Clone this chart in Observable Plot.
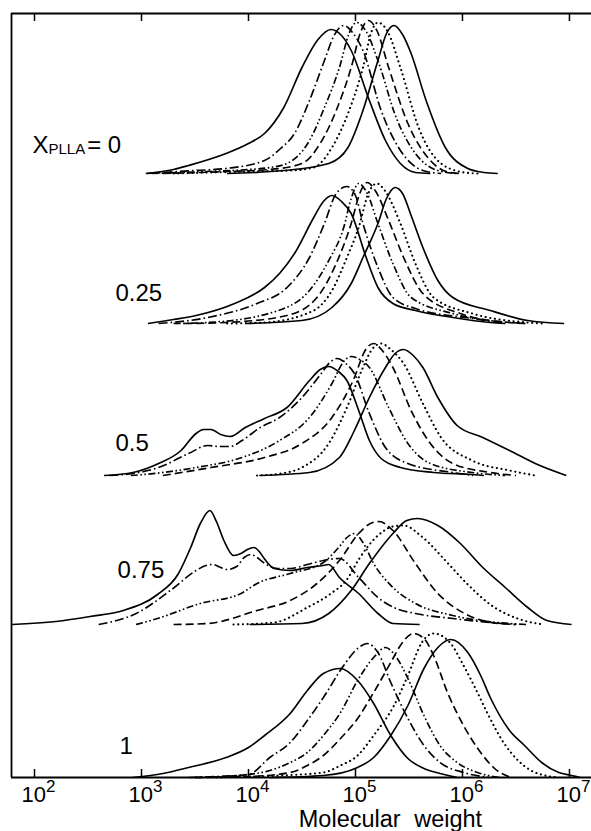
<!DOCTYPE html>
<html><head><meta charset="utf-8">
<script src="https://cdn.jsdelivr.net/npm/d3@7"></script>
<script src="https://cdn.jsdelivr.net/npm/@observablehq/plot@0.6"></script>
<style>body{margin:0;background:#fff} svg{display:block;font-family:"Liberation Sans",Arial,sans-serif}</style>
</head><body><div id="chart"></div>
<script>
// ---- data: [log10(M), intensity] per curve; 6 curves per panel ----
const panelLabels = ["0", "0.25", "0.5", "0.75", "1"];
const curveStyles = ["solid", "dashdot", "dashdotdot", "dashed", "dotted", "solid"];

const curvesX0 = [
  [[3.04,0],[3.3,4],[3.44,8],[3.79,20],[4.0,30],[4.15,40],[4.33,66],[4.50,106],[4.65,134],[4.77,144],[4.87,138],[4.96,123],[5.13,73],[5.28,33],[5.42,10],[5.56,1],[5.7,0]],
  [[3.05,0],[3.5,3],[3.79,5],[4.15,13],[4.30,25],[4.43,40],[4.57,73],[4.71,113],[4.80,138],[4.89,148],[4.98,140],[5.07,123],[5.24,63],[5.42,23],[5.63,3],[5.8,0]],
  [[3.1,0],[3.6,2],[4.0,4],[4.2,6],[4.36,10],[4.57,33],[4.71,66],[4.85,106],[4.94,140],[5.01,151],[5.10,142],[5.21,113],[5.38,56],[5.56,20],[5.77,3],[5.95,0]],
  [[3.2,0],[3.8,2],[4.2,4],[4.50,10],[4.67,30],[4.82,63],[4.96,106],[5.05,142],[5.12,153],[5.20,143],[5.31,106],[5.49,50],[5.70,13],[5.88,1],[6.0,0]],
  [[3.3,0],[4.0,2],[4.4,3],[4.61,6],[4.78,26],[4.93,60],[5.07,106],[5.15,142],[5.21,151],[5.30,142],[5.42,106],[5.59,46],[5.80,10],[6.02,1],[6.15,0]],
  [[3.8,0],[4.33,3],[4.75,10],[4.93,26],[5.07,63],[5.21,113],[5.29,140],[5.36,148],[5.44,139],[5.52,120],[5.66,73],[5.84,26],[6.05,5],[6.2,1],[6.33,0]]
];
const curvesX025 = [
  [[3.06,0],[3.3,4],[3.51,8],[3.87,20],[4.15,36],[4.29,50],[4.43,70],[4.61,106],[4.70,122],[4.78,128],[4.87,122],[4.96,110],[5.10,66],[5.21,36],[5.35,20],[5.56,13],[5.91,6],[6.26,1],[6.4,0]],
  [[3.16,0],[3.62,6],[4.08,20],[4.36,36],[4.57,66],[4.71,100],[4.82,130],[4.92,137],[5.00,128],[5.07,100],[5.21,56],[5.35,26],[5.56,15],[6.09,5],[6.4,0]],
  [[3.3,0],[3.62,1],[4.22,11],[4.57,33],[4.75,63],[4.89,96],[4.96,125],[5.03,140],[5.11,130],[5.21,100],[5.35,60],[5.52,26],[5.91,10],[6.44,1],[6.6,0]],
  [[3.4,0],[3.79,1],[4.36,8],[4.64,26],[4.82,60],[4.96,100],[5.04,130],[5.11,141],[5.19,132],[5.31,103],[5.45,66],[5.63,30],[5.98,10],[6.44,1],[6.6,0]],
  [[3.8,0],[4.15,1],[4.61,13],[4.78,33],[4.92,66],[5.03,96],[5.12,130],[5.20,140],[5.28,132],[5.42,100],[5.56,60],[5.73,26],[6.09,10],[6.61,1],[6.75,0]],
  [[3.97,0],[4.50,3],[4.78,16],[4.96,40],[5.07,66],[5.21,100],[5.29,125],[5.37,136],[5.44,130],[5.52,108],[5.63,76],[5.77,43],[5.91,26],[6.26,13],[6.61,3],[6.95,0]]
];
const curvesX05 = [
  [[2.65,0],[2.92,3],[3.16,12],[3.37,25],[3.51,42],[3.58,46],[3.65,46],[3.74,41],[3.83,39],[3.97,48],[4.15,57],[4.36,68],[4.57,95],[4.67,106],[4.75,109],[4.84,104],[4.92,95],[5.03,65],[5.13,35],[5.24,17],[5.42,8],[5.73,3],[6.09,1],[6.2,0]],
  [[2.7,0],[2.92,2],[3.16,8],[3.44,22],[3.62,30],[3.72,29],[3.83,29],[3.94,35],[4.11,48],[4.29,58],[4.50,78],[4.68,102],[4.76,113],[4.83,117],[4.91,112],[4.99,102],[5.13,62],[5.28,28],[5.49,12],[5.91,3],[6.1,0]],
  [[2.9,0],[3.02,1],[3.51,8],[3.94,18],[4.29,35],[4.57,58],[4.78,92],[4.89,114],[4.96,119],[5.04,116],[5.13,108],[5.31,68],[5.49,32],[5.70,12],[6.09,3],[6.4,0]],
  [[3.2,0],[3.65,8],[4.15,18],[4.50,32],[4.78,58],[4.99,98],[5.09,125],[5.17,132],[5.25,125],[5.35,108],[5.52,65],[5.70,32],[5.91,12],[6.26,3],[6.5,0]],
  [[4.08,0],[4.3,2],[4.50,8],[4.75,32],[4.92,68],[5.07,108],[5.16,127],[5.24,132],[5.33,126],[5.45,112],[5.63,72],[5.80,38],[6.09,15],[6.44,5],[6.68,0]],
  [[4.1,0],[4.57,3],[4.85,18],[4.99,45],[5.13,78],[5.28,108],[5.37,122],[5.45,126],[5.54,120],[5.63,108],[5.77,78],[5.95,50],[6.19,38],[6.44,25],[6.68,12],[6.97,0]]
];
const curvesX075 = [
  [[1.79,0],[2.2,3],[2.52,8],[2.83,14],[3.15,30],[3.34,50],[3.46,77],[3.55,101],[3.64,114],[3.70,103],[3.77,84],[3.86,69],[3.93,71],[3.99,75],[4.05,77],[4.10,73],[4.14,67],[4.24,56],[4.39,54],[4.55,57],[4.70,59],[4.75,60],[4.85,47],[5.03,31],[5.21,11],[5.35,1],[5.6,0]],
  [[2.60,0],[2.95,11],[3.27,34],[3.51,54],[3.60,59],[3.67,60],[3.74,57],[3.80,55],[3.89,58],[3.96,67],[4.02,70],[4.08,67],[4.14,62],[4.27,56],[4.39,56],[4.55,60],[4.70,64],[4.85,66],[5.03,47],[5.21,27],[5.38,16],[5.56,11],[5.91,6],[6.26,2],[6.5,0]],
  [[2.95,0],[3.15,6],[3.55,21],[3.93,31],[4.08,41],[4.39,51],[4.70,62],[4.85,78],[4.92,87],[4.99,91],[5.07,82],[5.17,61],[5.35,37],[5.56,21],[5.91,9],[6.44,1],[6.6,0]],
  [[3.3,0],[3.62,1],[4.08,14],[4.39,24],[4.64,41],[4.85,64],[5.03,91],[5.14,101],[5.22,103],[5.35,94],[5.56,61],[5.77,31],[6.02,11],[6.34,1],[6.5,0]],
  [[3.86,0],[4.24,2],[4.55,17],[4.77,31],[4.92,45],[5.03,65],[5.21,89],[5.35,98],[5.45,99],[5.63,87],[5.84,64],[6.05,40],[6.26,20],[6.54,5],[6.76,0]],
  [[4.01,0],[4.50,1],[4.75,11],[4.96,34],[5.13,61],[5.35,91],[5.48,104],[5.58,106],[5.77,99],[5.98,81],[6.19,57],[6.40,37],[6.61,17],[6.79,4],[7.02,0]]
];
const curvesX1 = [
  [[2.92,0],[3.2,4],[3.44,10],[3.79,20],[4.0,30],[4.15,42],[4.39,64],[4.55,87],[4.70,104],[4.86,109],[5.02,97],[5.17,74],[5.33,42],[5.49,19],[5.64,9],[5.79,4],[5.95,0]],
  [[3.44,0],[3.7,1],[4.0,3],[4.2,20],[4.39,35],[4.55,57],[4.70,80],[4.89,112],[5.02,129],[5.11,134],[5.21,125],[5.33,95],[5.49,59],[5.64,32],[5.79,15],[6.01,5],[6.25,0]],
  [[3.5,0],[3.9,2],[4.2,7],[4.39,15],[4.55,25],[4.70,42],[4.86,65],[5.02,97],[5.17,120],[5.28,130],[5.39,119],[5.49,99],[5.64,62],[5.79,32],[5.95,15],[6.14,5],[6.35,0]],
  [[3.5,0],[4.0,1],[4.39,5],[4.55,12],[4.70,22],[4.86,39],[5.02,59],[5.17,85],[5.33,115],[5.42,132],[5.54,144],[5.64,139],[5.73,122],[5.86,85],[6.01,52],[6.17,25],[6.3,9],[6.45,0]],
  [[3.7,0],[4.3,2],[4.70,5],[4.86,12],[5.02,22],[5.17,42],[5.36,72],[5.49,102],[5.62,135],[5.73,144],[5.89,134],[6.01,112],[6.14,85],[6.23,65],[6.39,34],[6.52,17],[6.64,7],[6.77,2],[6.9,0]],
  [[4.2,0],[4.7,2],[5.02,10],[5.17,20],[5.33,42],[5.49,72],[5.64,109],[5.77,130],[5.89,138],[6.05,125],[6.17,102],[6.26,80],[6.44,47],[6.58,32],[6.74,15],[6.90,5],[7.02,2],[7.1,0]]
];
const panelCurves = [curvesX0, curvesX025, curvesX05, curvesX075, curvesX1];
const decadeTicks = [1e2, 1e3, 1e4, 1e5, 1e6, 1e7];
const xTitle = "Molecular weight";

// ---- layout (not data) ----
const W = 591, H = 831, mT = 13, mB = 54, mL = 11, mR = 0;
const plotH = H - mT - mB;                 // y units = pixels
const panelShift = [604, 454, 302, 153, 0]; // vertical offset of each stacked trace group
const labelPos = [[1.981, 21], [2.757, 23], [2.757, 25], [2.776, 47], [2.794, 24]];
const xDomain = [10 ** 1.785, 10 ** 7.206];
const dash = {
  solid: null,
  dashdot: "9,3,1.6,3",
  dashdotdot: "7,2.5,1.6,2.5,1.6,2.5",
  dashed: "8,4",
  dotted: "0.1,4.6"
};

const rows = [];
panelCurves.forEach((curves, p) => curves.forEach((pts, c) => pts.forEach(([lm, v]) =>
  rows.push({panel: p, curve: c, style: curveStyles[c], x: 10 ** lm, y: panelShift[p] + v}))));

const styleNames = [...new Set(curveStyles)];
const lineMarks = styleNames.map(s => Plot.line(rows.filter(d => d.style === s), {
  x: "x", y: "y", z: d => d.panel + "-" + d.curve, curve: "monotone-x",
  stroke: "#000", strokeWidth: s === "dotted" ? 2.1 : 1.65,
  strokeDasharray: dash[s], strokeLinecap: s === "dotted" ? "round" : "butt"
}));

const labels = panelLabels.map((t, i) => ({
  text: i === 0 ? "XPLLA = " + t : t,
  x: 10 ** labelPos[i][0], y: panelShift[i] + labelPos[i][1]
}));

const chart = Plot.plot({
  width: W, height: H, marginTop: mT, marginBottom: mB, marginLeft: mL, marginRight: mR,
  x: {type: "log", domain: xDomain, axis: null},
  y: {domain: [0, plotH], axis: null},
  marks: [
    ...lineMarks,
    Plot.ruleX([xDomain[0]], {stroke: "#000", strokeWidth: 1.8}),
    Plot.ruleY([0, plotH], {stroke: "#000", strokeWidth: 1.8}),
    Plot.ruleX(decadeTicks, {x: d => d, y1: 0, y2: 8, stroke: "#000", strokeWidth: 1.5}),
    Plot.ruleX(decadeTicks, {x: d => d, y1: plotH - 8, y2: plotH, stroke: "#000", strokeWidth: 1.5}),
    Plot.text(decadeTicks, {x: d => d, text: d => "10^" + Math.round(Math.log10(d)),
      frameAnchor: "bottom", lineAnchor: "bottom", dy: 24, dx: 4, fontSize: 22, fill: "#000"}),
    Plot.text([xTitle], {x: () => 10 ** 5.327, text: d => d, frameAnchor: "bottom",
      lineAnchor: "bottom", dy: 49, fontSize: 23.5, fill: "#000"}),
    Plot.text(labels, {x: "x", y: "y", text: "text", textAnchor: "start", lineAnchor: "bottom",
      fontSize: 24, fill: "#000"})
  ]
});

const NS = "http://www.w3.org/2000/svg";
chart.querySelectorAll("text").forEach(t => {
  const s = t.textContent;
  if (s.startsWith("10^")) {
    t.textContent = "10";
    const sp = document.createElementNS(NS, "tspan");
    sp.setAttribute("dy", "-10"); sp.setAttribute("font-size", "17");
    sp.textContent = s.slice(3);
    t.appendChild(sp);
  } else if (s.startsWith("XPLLA")) {
    t.textContent = "X";
    const a = document.createElementNS(NS, "tspan");
    a.setAttribute("dy", "1"); a.setAttribute("font-size", "15"); a.textContent = "PLLA";
    const b = document.createElementNS(NS, "tspan");
    b.setAttribute("dy", "-1"); b.setAttribute("dx", "2"); b.textContent = s.slice(6);
    t.appendChild(a); t.appendChild(b);
  } else if (s === xTitle) {
    t.setAttribute("word-spacing", "7");
  }
});
document.getElementById("chart").appendChild(chart);
</script>
</body></html>
